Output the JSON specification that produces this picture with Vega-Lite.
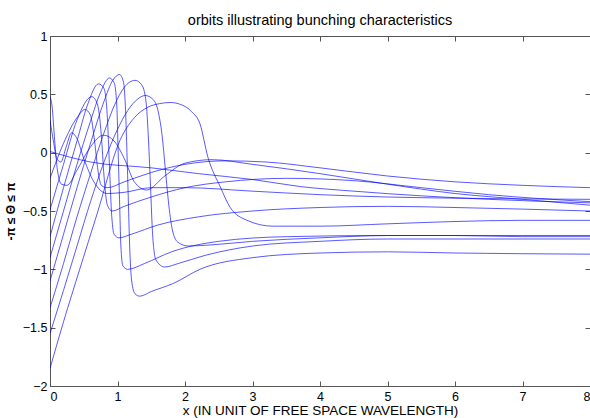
{
  "$schema": "https://vega.github.io/schema/vega-lite/v6.json",
  "width": 540,
  "height": 350,
  "autosize": {"type": "none"},
  "padding": {"left": 50, "top": 36, "right": 0, "bottom": 32},
  "background": "white",
  "config": {
    "font": "Liberation Sans",
    "view": {"stroke": "#555555", "strokeWidth": 1},
    "axis": {"domainColor": "#555555", "tickColor": "#555555", "labelColor": "black", "labelFontSize": 12.5, "titleFontSize": 13.5, "titleFontWeight": "normal", "titleColor": "black", "grid": false, "tickSize": -5}
  },
  "title": {"text": "orbits illustrating bunching characteristics", "fontSize": 14.5, "fontWeight": "normal", "font": "Liberation Sans", "offset": 2, "color": "black"},
  "data": {"values": [
    {"c":"A","x":0,"y":-1.85},{"c":"A","x":0.2,"y":-1.45},{"c":"A","x":0.44,"y":-1.0},{"c":"A","x":0.7,"y":-0.52},{"c":"A","x":1.04,"y":0.11},{"c":"A","x":1.25,"y":0.3},{"c":"A","x":1.45,"y":0.39},{"c":"A","x":1.62,"y":0.42},{"c":"A","x":1.78,"y":0.43},{"c":"A","x":1.95,"y":0.41},{"c":"A","x":2.1,"y":0.35},{"c":"A","x":2.22,"y":0.25},{"c":"A","x":2.34,"y":-0.04},{"c":"A","x":2.52,"y":-0.29},{"c":"A","x":2.67,"y":-0.47},{"c":"A","x":2.92,"y":-0.58},{"c":"A","x":3.3,"y":-0.63},{"c":"A","x":4,"y":-0.63},{"c":"A","x":5,"y":-0.61},{"c":"A","x":6,"y":-0.59},{"c":"A","x":7,"y":-0.58},{"c":"A","x":8,"y":-0.58},
    {"c":"B","x":0,"y":-1.55},{"c":"B","x":0.2,"y":-1.18},{"c":"B","x":0.4,"y":-0.8},{"c":"B","x":0.6,"y":-0.42},{"c":"B","x":0.8,"y":-0.08},{"c":"B","x":1.0,"y":0.2},{"c":"B","x":1.15,"y":0.36},{"c":"B","x":1.3,"y":0.46},{"c":"B","x":1.41,"y":0.49},{"c":"B","x":1.52,"y":0.46},{"c":"B","x":1.6,"y":0.36},{"c":"B","x":1.66,"y":0.15},{"c":"B","x":1.71,"y":-0.15},{"c":"B","x":1.76,"y":-0.45},{"c":"B","x":1.82,"y":-0.68},{"c":"B","x":1.9,"y":-0.77},{"c":"B","x":2.05,"y":-0.8},{"c":"B","x":2.4,"y":-0.79},{"c":"B","x":3,"y":-0.76},{"c":"B","x":4,"y":-0.73},{"c":"B","x":5,"y":-0.71},{"c":"B","x":6,"y":-0.71},{"c":"B","x":7,"y":-0.72},{"c":"B","x":8,"y":-0.72},
    {"c":"C","x":0,"y":-1.33},{"c":"C","x":0.2,"y":-0.95},{"c":"C","x":0.4,"y":-0.55},{"c":"C","x":0.6,"y":-0.18},{"c":"C","x":0.8,"y":0.17},{"c":"C","x":0.95,"y":0.4},{"c":"C","x":1.1,"y":0.56},{"c":"C","x":1.26,"y":0.62},{"c":"C","x":1.36,"y":0.58},{"c":"C","x":1.42,"y":0.45},{"c":"C","x":1.46,"y":0.1},{"c":"C","x":1.49,"y":-0.3},{"c":"C","x":1.52,"y":-0.7},{"c":"C","x":1.57,"y":-0.92},{"c":"C","x":1.7,"y":-0.98},{"c":"C","x":1.9,"y":-0.95},{"c":"C","x":2.3,"y":-0.88},{"c":"C","x":3,"y":-0.8},{"c":"C","x":4,"y":-0.76},{"c":"C","x":5,"y":-0.74},{"c":"C","x":6,"y":-0.74},{"c":"C","x":8,"y":-0.74},
    {"c":"D","x":0,"y":-1.1},{"c":"D","x":0.2,"y":-0.7},{"c":"D","x":0.4,"y":-0.3},{"c":"D","x":0.6,"y":0.08},{"c":"D","x":0.8,"y":0.44},{"c":"D","x":0.93,"y":0.62},{"c":"D","x":1.03,"y":0.67},{"c":"D","x":1.09,"y":0.6},{"c":"D","x":1.12,"y":0.35},{"c":"D","x":1.14,"y":0.0},{"c":"D","x":1.16,"y":-0.4},{"c":"D","x":1.18,"y":-0.8},{"c":"D","x":1.21,"y":-1.1},{"c":"D","x":1.26,"y":-1.21},{"c":"D","x":1.33,"y":-1.23},{"c":"D","x":1.5,"y":-1.19},{"c":"D","x":1.83,"y":-1.12},{"c":"D","x":2.22,"y":-1.0},{"c":"D","x":3,"y":-0.9},{"c":"D","x":4,"y":-0.86},{"c":"D","x":5,"y":-0.85},{"c":"D","x":6,"y":-0.86},{"c":"D","x":8,"y":-0.87},
    {"c":"E","x":0,"y":-0.9},{"c":"E","x":0.2,"y":-0.5},{"c":"E","x":0.4,"y":-0.1},{"c":"E","x":0.6,"y":0.27},{"c":"E","x":0.75,"y":0.52},{"c":"E","x":0.88,"y":0.64},{"c":"E","x":0.95,"y":0.6},{"c":"E","x":0.99,"y":0.4},{"c":"E","x":1.01,"y":0.0},{"c":"E","x":1.03,"y":-0.4},{"c":"E","x":1.05,"y":-0.8},{"c":"E","x":1.08,"y":-0.97},{"c":"E","x":1.15,"y":-1.0},{"c":"E","x":1.4,"y":-0.95},{"c":"E","x":1.8,"y":-0.85},{"c":"E","x":2.5,"y":-0.76},{"c":"E","x":3.5,"y":-0.72},{"c":"E","x":5,"y":-0.71},{"c":"E","x":8,"y":-0.71},
    {"c":"F","x":0,"y":-0.72},{"c":"F","x":0.2,"y":-0.3},{"c":"F","x":0.4,"y":0.1},{"c":"F","x":0.55,"y":0.4},{"c":"F","x":0.72,"y":0.59},{"c":"F","x":0.8,"y":0.55},{"c":"F","x":0.85,"y":0.3},{"c":"F","x":0.88,"y":-0.1},{"c":"F","x":0.91,"y":-0.5},{"c":"F","x":0.95,"y":-0.7},{"c":"F","x":1.02,"y":-0.73},{"c":"F","x":1.2,"y":-0.7},{"c":"F","x":1.6,"y":-0.62},{"c":"F","x":2.2,"y":-0.55},{"c":"F","x":3,"y":-0.5},{"c":"F","x":4,"y":-0.47},{"c":"F","x":5,"y":-0.46},{"c":"F","x":6,"y":-0.47},{"c":"F","x":8,"y":-0.5},
    {"c":"G","x":0,"y":-0.49},{"c":"G","x":0.2,"y":-0.1},{"c":"G","x":0.4,"y":0.28},{"c":"G","x":0.62,"y":0.48},{"c":"G","x":0.7,"y":0.42},{"c":"G","x":0.76,"y":0.15},{"c":"G","x":0.8,"y":-0.2},{"c":"G","x":0.85,"y":-0.45},{"c":"G","x":0.92,"y":-0.5},{"c":"G","x":1.1,"y":-0.46},{"c":"G","x":1.5,"y":-0.38},{"c":"G","x":2,"y":-0.3},{"c":"G","x":2.6,"y":-0.25},{"c":"G","x":3.5,"y":-0.22},{"c":"G","x":4.5,"y":-0.24},{"c":"G","x":5.5,"y":-0.3},{"c":"G","x":6.5,"y":-0.36},{"c":"G","x":8,"y":-0.42},
    {"c":"H","x":0,"y":-0.22},{"c":"H","x":0.2,"y":0.08},{"c":"H","x":0.4,"y":0.3},{"c":"H","x":0.52,"y":0.37},{"c":"H","x":0.6,"y":0.32},{"c":"H","x":0.66,"y":0.1},{"c":"H","x":0.71,"y":-0.15},{"c":"H","x":0.76,"y":-0.28},{"c":"H","x":0.85,"y":-0.3},{"c":"H","x":1.1,"y":-0.25},{"c":"H","x":1.5,"y":-0.17},{"c":"H","x":2,"y":-0.1},{"c":"H","x":2.6,"y":-0.07},{"c":"H","x":3.2,"y":-0.08},{"c":"H","x":4,"y":-0.13},{"c":"H","x":5,"y":-0.2},{"c":"H","x":6,"y":-0.25},{"c":"H","x":7,"y":-0.28},{"c":"H","x":8,"y":-0.3},
    {"c":"I","x":0,"y":0.01},{"c":"I","x":0.6,"y":-0.08},{"c":"I","x":1.5,"y":-0.13},{"c":"I","x":2.2,"y":-0.18},{"c":"I","x":3,"y":-0.23},{"c":"I","x":3.7,"y":-0.29},{"c":"I","x":4.5,"y":-0.33},{"c":"I","x":5.5,"y":-0.37},{"c":"I","x":6.5,"y":-0.4},{"c":"I","x":8,"y":-0.43},
    {"c":"J","x":0,"y":0.48},{"c":"J","x":0.03,"y":0.4},{"c":"J","x":0.07,"y":0.1},{"c":"J","x":0.11,"y":-0.15},{"c":"J","x":0.17,"y":-0.27},{"c":"J","x":0.25,"y":-0.28},{"c":"J","x":0.4,"y":-0.15},{"c":"J","x":0.6,"y":0.05},{"c":"J","x":0.79,"y":0.15},{"c":"J","x":0.95,"y":0.1},{"c":"J","x":1.1,"y":-0.05},{"c":"J","x":1.25,"y":-0.25},{"c":"J","x":1.43,"y":-0.32},{"c":"J","x":1.7,"y":-0.2},{"c":"J","x":2.0,"y":-0.09},{"c":"J","x":2.4,"y":-0.06},{"c":"J","x":3,"y":-0.1},{"c":"J","x":4,"y":-0.18},{"c":"J","x":5,"y":-0.27},{"c":"J","x":6,"y":-0.35},{"c":"J","x":7,"y":-0.4},{"c":"J","x":8,"y":-0.45},
    {"c":"K","x":0,"y":0.28},{"c":"K","x":0.05,"y":0.1},{"c":"K","x":0.1,"y":-0.05},{"c":"K","x":0.16,"y":-0.08},{"c":"K","x":0.24,"y":0.05},{"c":"K","x":0.32,"y":0.17},{"c":"K","x":0.4,"y":0.12},{"c":"K","x":0.5,"y":-0.05},{"c":"K","x":0.65,"y":-0.25},{"c":"K","x":0.85,"y":-0.35},{"c":"K","x":1.1,"y":-0.34},{"c":"K","x":1.5,"y":-0.3},{"c":"K","x":2,"y":-0.3},{"c":"K","x":3,"y":-0.33},{"c":"K","x":4,"y":-0.36},{"c":"K","x":5,"y":-0.38},{"c":"K","x":6,"y":-0.39},{"c":"K","x":8,"y":-0.4}
  ]},
  "layer": [
    {
      "mark": {"type": "line", "interpolate": "monotone", "color": "#0000ff", "strokeWidth": 1, "opacity": 0.65, "clip": true},
      "encoding": {
        "x": {"field": "x", "type": "quantitative", "scale": {"domain": [0, 8], "nice": false}, "axis": {"values": [0,1,2,3,4,5,6,7,8], "title": "x (IN UNIT OF FREE SPACE WAVELENGTH)", "titlePadding": 1, "labelPadding": 9, "format": "~f"}},
        "y": {"field": "y", "type": "quantitative", "scale": {"domain": [-2, 1], "nice": false, "zero": false}, "axis": {"values": [-2,-1.5,-1,-0.5,0,0.5,1], "title": "-π ≤ Θ ≤ π", "titleFontSize": 12, "titleFontWeight": "bold", "titlePadding": 5, "labelPadding": 8, "format": "~f"}},
        "detail": {"field": "c", "type": "nominal"}
      }
    },
    {
      "mark": {"type": "line", "opacity": 0},
      "encoding": {
        "x": {"field": "x", "type": "quantitative", "scale": {"domain": [0, 8], "nice": false}, "axis": {"orient": "top", "values": [0,1,2,3,4,5,6,7,8], "labels": false, "title": null}},
        "y": {"field": "y", "type": "quantitative", "scale": {"domain": [-2, 1], "nice": false, "zero": false}, "axis": {"orient": "right", "values": [-2,-1.5,-1,-0.5,0,0.5,1], "labels": false, "title": null}},
        "detail": {"field": "c", "type": "nominal"}
      }
    }
  ],
  "resolve": {"axis": {"x": "independent", "y": "independent"}}
}
